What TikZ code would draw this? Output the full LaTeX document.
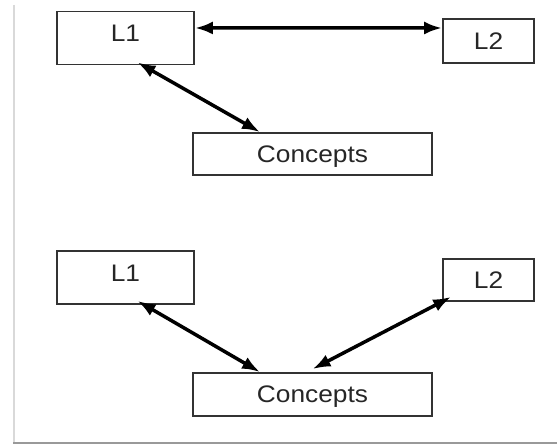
\documentclass[tikz,border=0pt]{standalone}
\usepackage{fontspec}
\setmainfont{Liberation Sans}[FakeStretch=1.1]
\usepackage{tikz}
\usetikzlibrary{arrows.meta}

\begin{document}
\begin{tikzpicture}[
  x=1bp, y=1bp,
  every node/.style={draw=black!80, line width=1.8bp, inner sep=0pt, text=black!85,
    font=\fontsize{24}{28}\selectfont, text height=17bp, text depth=0pt},
  lang/.style={minimum width=137bp, minimum height=53bp},
  small/.style={minimum width=91bp, minimum height=43bp},
  wide/.style={minimum width=239bp, minimum height=43bp},
  raised/.style={text depth=9bp},
  link/.style={{Latex[length=18bp,width=13bp]}-{Latex[length=18bp,width=13bp]}, line width=3.5bp}
]
\useasboundingbox (0,0) rectangle (557,445);
% page edge
\draw[black!15, line width=2bp] (13.5,440) -- (13.5,2);
\draw[black!40, line width=2bp] (13,2) -- (557,2);

% upper layout
\node[lang, raised] (l1a) at (125.5,407) {L1};
\node[small, minimum height=44bp] (l2a) at (488.5,404) {L2};
\node[wide, minimum height=42bp] (ca) at (312.5,291) {Concepts};
\draw[link] ([yshift=10bp]l1a.east) -- ([yshift=13bp]l2a.west);
\draw[link] ([shift={(12bp,3bp)}]l1a.south) -- ([xshift=-52.5bp]ca.north);

% lower layout
\node[lang, raised] (l1b) at (125.5,167.5) {L1};
\node[small, minimum height=42bp] (l2b) at (488.5,165) {L2};
\node[wide] (cb) at (312.5,50.5) {Concepts};
\draw[link] ([shift={(12bp,4bp)}]l1b.south) -- ([xshift=-52.5bp]cb.north);
\draw[link] ([shift={(9bp,5bp)}]l2b.south west) -- ([yshift=3bp]cb.north);
\end{tikzpicture}
\end{document}
